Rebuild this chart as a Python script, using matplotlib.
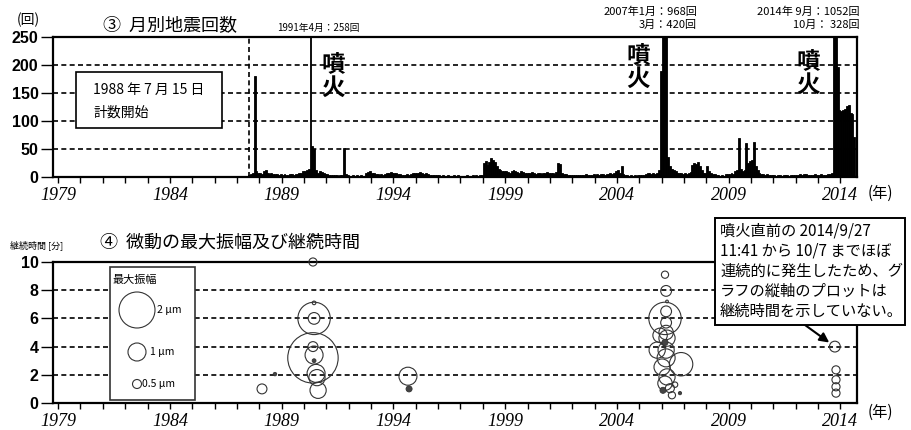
import numpy as np
import matplotlib
matplotlib.use("Agg")
import matplotlib.pyplot as plt
from matplotlib.patches import Rectangle

plt.rcParams["font.family"] = ["Noto Sans CJK JP", "DejaVu Sans"]
plt.rcParams["axes.unicode_minus"] = False

# 月別地震回数 (1988年7月から, 1行=1年)
start_year, start_month = 1988, 7
monthly_counts = [
    3, 5, 8, 180, 10, 8,                               # 1988 (7-12月)
    8, 6, 10, 12, 8, 6, 7, 5, 6, 5, 4, 5,              # 1989
    4, 5, 3, 4, 6, 5, 4, 6, 5, 7, 8, 10,               # 1990
    10, 12, 15, 258, 55, 50, 12, 8, 10, 9, 8, 6,       # 1991
    5, 4, 3, 3, 4, 3, 2, 3, 4, 52, 5, 3,               # 1992
    2, 2, 3, 2, 3, 2, 3, 2, 2, 8, 9, 10,               # 1993
    8, 7, 6, 5, 4, 5, 4, 6, 8, 7, 9, 8,                # 1994
    7, 8, 6, 5, 4, 3, 4, 5, 4, 6, 7, 8,                # 1995
    8, 7, 9, 8, 6, 7, 5, 4, 3, 4, 3, 3,                # 1996
    3, 2, 3, 2, 2, 3, 2, 2, 3, 2, 3, 2,                # 1997
    2, 2, 2, 3, 2, 2, 3, 2, 3, 2, 3, 4,                # 1998
    25, 28, 22, 26, 34, 30, 27, 20, 15, 12, 10, 11,    # 1999
    10, 9, 8, 10, 12, 11, 9, 8, 10, 9, 8, 7,           # 2000
    8, 7, 9, 8, 6, 7, 8, 6, 7, 8, 9, 7,                # 2001
    8, 7, 6, 9, 25, 24, 8, 6, 5, 4, 4, 3,              # 2002
    3, 3, 4, 3, 4, 3, 4, 5, 4, 3, 4, 5,                # 2003
    4, 5, 4, 6, 5, 4, 6, 5, 7, 6, 8, 10,               # 2004
    12, 8, 20, 5, 4, 3, 2, 3, 2, 3, 2, 3,              # 2005
    3, 4, 3, 5, 7, 8, 6, 7, 5, 8, 12, 190,             # 2006
    968, 350, 420, 36, 20, 15, 12, 10, 8, 7, 8, 6,     # 2007
    7, 6, 8, 9, 22, 25, 24, 26, 20, 12, 8, 7,          # 2008
    20, 10, 8, 6, 5, 3, 4, 2, 3, 2, 5, 6,              # 2009
    5, 8, 6, 10, 12, 69, 14, 10, 12, 61, 25, 28,       # 2010
    30, 62, 20, 12, 8, 5, 6, 4, 5, 3, 4, 3,            # 2011
    3, 2, 3, 4, 2, 3, 4, 3, 2, 3, 4, 3,                # 2012
    4, 3, 5, 4, 6, 5, 4, 3, 4, 3, 5, 4,                # 2013
    4, 5, 3, 4, 3, 5, 6, 8, 1052, 328, 196, 120,       # 2014
    118, 120, 121, 127, 128, 114, 112, 72,             # 2015
]

# 微動: 発生時期, 継続時間(分), 最大振幅(μm), 塗りつぶし
tremor_time = [1989.12, 1989.70, 1991.40, 1991.40, 1991.45, 1991.45, 1991.45,
               1991.40, 1991.40, 1991.45, 1991.45, 1991.54, 1991.58, 1991.63,
               1995.65, 1995.70,
               2007.15, 2007.20, 2007.24, 2007.15, 2007.20, 2007.20, 2007.20,
               2007.24, 2007.15, 2007.20, 2007.20, 2007.87, 2007.02, 2006.80,
               2006.93, 2007.24, 2007.15, 2007.06, 2007.37, 2007.46, 2007.60,
               2007.82,
               2014.75, 2014.80, 2014.80, 2014.80, 2014.80]
tremor_minutes = [1.0, 2.05, 11.9, 10.0, 7.1, 6.0, 6.0,
                  4.0, 3.2, 3.4, 3.0, 2.1, 1.8, 0.9,
                  1.9, 1.0,
                  9.1, 7.95, 7.2, 6.0, 6.5, 5.7, 5.0,
                  4.6, 4.3, 3.75, 3.2, 2.75, 2.55, 3.75,
                  4.8, 1.85, 1.4, 0.9, 1.05, 0.55, 1.3,
                  0.7,
                  4.0, 2.35, 1.65, 1.15, 0.7]
tremor_amp = [0.55, 0.12, 0.1, 0.45, 0.2, 1.8, 0.65,
              0.55, 2.8, 1.0, 0.15, 1.0, 0.9, 0.9,
              1.0, 0.3,
              0.4, 0.6, 0.15, 1.8, 0.6, 0.6, 0.8,
              0.9, 0.3, 0.9, 1.0, 1.3, 0.9, 0.9,
              0.8, 0.9, 0.8, 0.3, 0.5, 0.4, 0.3,
              0.1,
              0.6, 0.45, 0.45, 0.45, 0.45]
tremor_filled = [0, 1, 1, 0, 0, 0, 0,
                 0, 0, 0, 1, 0, 0, 0,
                 0, 1,
                 0, 0, 0, 0, 0, 0, 0,
                 0, 1, 0, 0, 0, 0, 0,
                 0, 0, 0, 1, 0, 0, 0,
                 1,
                 0, 0, 0, 0, 0]

legend_amp = [2, 1, 0.5]
legend_text = ["2 μm", "1 μm", "0.5 μm"]

year_ticks = [1980, 1985, 1990, 1995, 2000, 2005, 2010, 2015]
year_labels = ["1979", "1984", "1989", "1994", "1999", "2004", "2009", "2014"]

W, H = 911, 430


def fx(px):
    return px / W


def fy(py):
    return 1 - py / H


def marker_s(amp):
    # 半径 9px / μm を points^2 に
    return (np.asarray(amp) * 18 * 0.72) ** 2


fig = plt.figure(figsize=(9.11, 4.30), dpi=100)
ax1 = fig.add_axes([fx(53), fy(177), fx(857) - fx(53), fy(37) - fy(177)])
ax2 = fig.add_axes([fx(53), fy(403), fx(857) - fx(53), fy(262) - fy(403)])


def style_axis(ax, yticks):
    ax.set_xlim(1979.77, 2015.74)
    for s in ax.spines.values():
        s.set_linewidth(1.6)
    ax.set_xticks(year_ticks)
    ax.set_xticklabels(year_labels, fontfamily="Liberation Serif",
                       fontstyle="italic", fontsize=13)
    ax.set_xticks(np.arange(1980, 2016), minor=True)
    ax.tick_params(axis="x", which="both", direction="out", length=4,
                   width=1, pad=3)
    ax.set_yticks(yticks)
    ax.set_yticklabels([str(v) for v in yticks], fontfamily="Liberation Sans",
                       fontweight="bold", fontsize=11.5)
    ax.tick_params(axis="y", direction="out", length=9, width=1, pad=1.5)
    ax.set_axisbelow(True)


# ③ 月別地震回数
times = start_year + (start_month - 1 + np.arange(len(monthly_counts))) / 12
ax1.bar(times, monthly_counts, width=1 / 12, align="edge", color="black",
        edgecolor="black", linewidth=0.6)
ax1.set_ylim(0, 250)
style_axis(ax1, [0, 50, 100, 150, 200, 250])
for v in [50, 100, 150, 200]:
    ax1.axhline(v, color="black", lw=1.2, ls=(0, (3, 2)), zorder=0)
ax1.axvline(start_year + 196 / 366, color="black", lw=1.2, ls=(0, (3, 2)))

ax1.add_patch(Rectangle((fx(76), fy(128)), fx(222) - fx(76), fy(72) - fy(128),
                        transform=fig.transFigure, facecolor="white",
                        edgecolor="black", lw=1.2, zorder=3))
fig.text(fx(93), fy(90), "1988 年 7 月 15 日", fontsize=10, va="center", zorder=4)
fig.text(fx(93), fy(113), "計数開始", fontsize=10, va="center", zorder=4)

for x, y in [(333, 76), (638, 67), (808, 73)]:
    fig.text(fx(x), fy(y), "噴\n火", fontsize=17, fontweight="bold",
             ha="center", va="center", linespacing=1.0)

fig.text(fx(17), fy(20), "(回)", fontsize=10, va="center")
fig.text(fx(103), fy(25), "③  月別地震回数", fontsize=13, va="center")
fig.text(fx(277), fy(28), "1991年4月：258回", fontsize=7, va="center")
fig.text(fx(697), fy(12), "2007年1月：968回", fontsize=8, ha="right", va="center")
fig.text(fx(697), fy(25), "3月：420回", fontsize=8, ha="right", va="center")
fig.text(fx(860), fy(12), "2014年 9月：1052回", fontsize=8, ha="right", va="center")
fig.text(fx(860), fy(25), "10月： 328回", fontsize=8, ha="right", va="center")
fig.text(fx(868), fy(193), "(年)", fontsize=11, va="center")

# ④ 微動の最大振幅及び継続時間
ax2.set_ylim(0, 10)
style_axis(ax2, [0, 2, 4, 6, 8, 10])
for v in [2, 4, 6, 8]:
    ax2.axhline(v, color="black", lw=1.2, ls=(0, (3, 2)), zorder=0)

filled = np.array(tremor_filled, dtype=bool)
t = np.array(tremor_time)
m = np.array(tremor_minutes)
a = np.array(tremor_amp)
ax2.scatter(t[~filled], m[~filled], s=marker_s(a[~filled]), facecolors="none",
            edgecolors="#333333", linewidths=0.8, clip_on=False, zorder=3)
ax2.scatter(t[filled], m[filled], s=marker_s(a[filled]) + 4, facecolors="#444444",
            edgecolors="#333333", linewidths=0.6, clip_on=False, zorder=3)

# 最大振幅の凡例
ax2.add_patch(Rectangle((fx(110), fy(400)), fx(195) - fx(110), fy(267) - fy(400),
                        transform=fig.transFigure, facecolor="white",
                        edgecolor="#333333", lw=1.2, zorder=4))
fig.text(fx(112), fy(280), "最大振幅", fontsize=8, va="center", zorder=5)
for amp, lab, ly, lx in zip(legend_amp, legend_text, [310, 352, 384], [157, 150, 142]):
    ax2.scatter([fx(137)], [fy(ly)], s=marker_s(amp), transform=fig.transFigure,
                facecolors="none", edgecolors="#333333", linewidths=0.8,
                clip_on=False, zorder=5)
    fig.text(fx(lx), fy(ly), lab, fontsize=7.5, va="center", zorder=5)

fig.text(fx(10), fy(246), "継続時間 [分]", fontsize=6.5, va="center")
fig.text(fx(100), fy(243), "④  微動の最大振幅及び継続時間", fontsize=13, va="center")
fig.text(fx(868), fy(412), "(年)", fontsize=11, va="center")

# 2014年噴火直前の注記
fig.patches.append(Rectangle((fx(715), fy(325)), fx(905) - fx(715), fy(218) - fy(325),
                             transform=fig.transFigure, facecolor="white",
                             edgecolor="black", lw=1.4, zorder=5))
fig.text(fx(720), fy(222),
         "噴火直前の 2014/9/27\n11:41 から 10/7 までほぼ\n連続的に発生したため、グ\n"
         "ラフの縦軸のプロットは\n継続時間を示していない。",
         fontsize=11, va="top", ha="left", linespacing=1.25, zorder=6)
ax2.annotate("", xy=(2014.75, 4.0), xytext=(fx(805), fy(325)),
             textcoords="figure fraction",
             arrowprops=dict(arrowstyle="-|>", color="black", lw=1.5,
                             mutation_scale=14, shrinkA=0, shrinkB=5))

fig.savefig("out.png", dpi=100)
